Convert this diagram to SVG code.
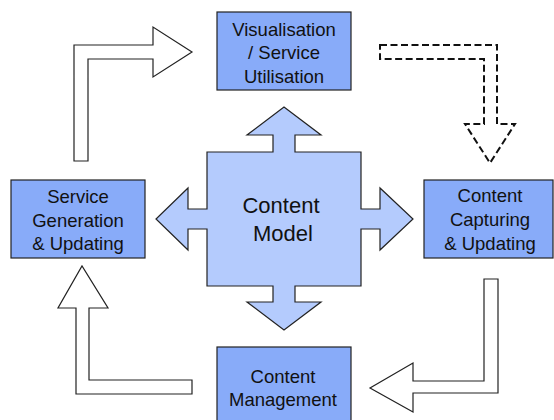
<svg xmlns="http://www.w3.org/2000/svg" width="554" height="420" viewBox="0 0 554 420">
<style>
.box{fill:#88abf9;stroke:#222;stroke-width:1.2}
.lbl{font-family:"Liberation Sans",Arial,sans-serif;font-size:18.5px;fill:#111;text-anchor:middle}
.big{font-family:"Liberation Sans",Arial,sans-serif;font-size:22px;fill:#111;text-anchor:middle}
.arr{fill:#fff;stroke:#222;stroke-width:1.2;stroke-linejoin:miter}
.dash{fill:#fff;stroke:#111;stroke-width:2;stroke-dasharray:7,3.5}
</style>
<rect width="554" height="420" fill="#fff"/>
<g id="content-model">
<path d="M207,152 L273,152 L273,135 L247,135 L284,107 L321,135 L295,135 L295,152 L361,152 L361,209 L380,209 L380,188 L413,219 L380,250 L380,229 L361,229 L361,286 L295,286 L295,302 L321,302 L284,330 L247,302 L273,302 L273,286 L207,286 L207,229 L188,229 L188,250 L156,219 L188,188 L188,209 L207,209 Z" fill="#b4cbfd" stroke="#222" stroke-width="1.2"/>
<text class="big" x="281" y="213">Content</text>
<text class="big" x="283" y="241">Model</text>
</g>
<g id="visualisation">
<rect class="box" x="217" y="12" width="134" height="78"/>
<text class="lbl" x="284" y="36">Visualisation</text>
<text class="lbl" x="284" y="59">/ Service</text>
<text class="lbl" x="284" y="82.5">Utilisation</text>
</g>
<g id="service-generation">
<rect class="box" x="11" y="180" width="134" height="78"/>
<text class="lbl" x="78" y="203">Service</text>
<text class="lbl" x="78" y="227">Generation</text>
<text class="lbl" x="78" y="250">&amp; Updating</text>
</g>
<g id="content-capturing">
<rect class="box" x="424" y="180" width="129" height="78"/>
<text class="lbl" x="490" y="202">Content</text>
<text class="lbl" x="490" y="225.5">Capturing</text>
<text class="lbl" x="490" y="250">&amp; Updating</text>
</g>
<g id="content-management">
<rect class="box" x="217" y="347" width="134" height="80"/>
<text class="lbl" x="283" y="383">Content</text>
<text class="lbl" x="283" y="406">Management</text>
</g>
<g id="connectors">
<path class="arr" d="M74,161 L74,45 L153,45 L153,27 L192,52 L153,77 L153,59 L88,59 L88,161 Z"/>
<path class="dash" d="M380,45 L497,45 L497,124 L515,124 L490,163 L465,124 L484,124 L484,59 L380,59 Z"/>
<path class="arr" d="M484,279 L498,279 L498,393 L413,393 L413,412 L370,388 L413,363 L413,381 L484,381 Z"/>
<path class="arr" d="M192,380 L89,380 L89,308 L108,308 L82,266 L58,308 L76,308 L76,394 L192,394 Z"/>
</g>
</svg>
